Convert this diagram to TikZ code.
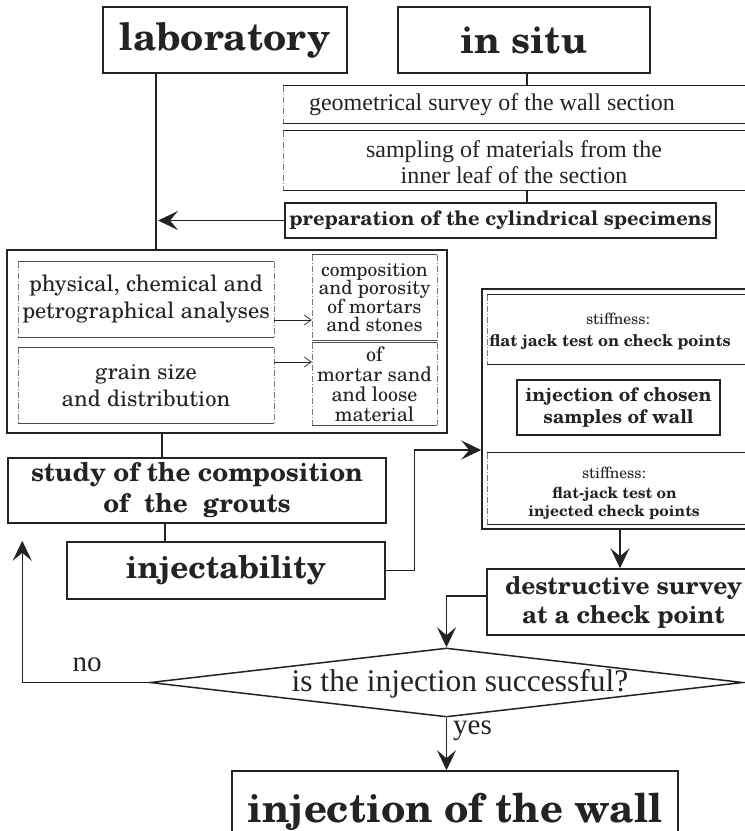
\documentclass[tikz,border=0pt]{standalone}
\usepackage{fontspec}
\setmainfont{Liberation Serif}
\newfontfamily\schola{TeX Gyre Schola}
\usetikzlibrary{arrows.meta,shapes.geometric,calc}
\definecolor{ink}{RGB}{35,35,35}
\tikzset{
  every node/.style={text=ink},
  frame/.style={draw=ink, line width=1.5pt, inner sep=0pt},
  blank/.style={inner sep=0pt},
  conn/.style={draw=ink, line width=1.1pt},
  bigarrow/.style={conn, -{Stealth[length=20pt,width=19pt,inset=8pt]}},
  thinarrow/.style={draw=ink, line width=0.7pt, -{Straight Barb[length=7pt,width=10pt]}},
  hline/.style={draw=ink, line width=1.1pt},
  thinline/.style={draw=ink!80, line width=0.7pt},
  dline/.style={draw=ink!60, line width=0.6pt, dash pattern=on 6pt off 2pt on 1pt off 2pt},
  hugebold/.style={font=\schola\bfseries\fontsize{38}{40}\selectfont},
  wideserif/.style={font=\schola\fontsize{22.5}{27}\selectfont, align=center},
  timesmid/.style={font=\fontsize{24}{26}\selectfont, align=center},
  stifflabel/.style={inner sep=0pt, anchor=base, font=\schola\fontsize{15.6}{18}\selectfont},
  jacklabel/.style={inner sep=0pt, anchor=base, font=\schola\bfseries\fontsize{16.3}{18}\selectfont},
}
\begin{document}
\begin{tikzpicture}[x=1pt,y=-1pt]
\useasboundingbox (0,0) rectangle (745,831);
\clip (0,0) rectangle (745,831);

% top headers
\node[frame, minimum width=244pt, minimum height=66pt, hugebold] (lab) at (225,40) {laboratory};
\node[frame, minimum width=252pt, minimum height=66pt, hugebold] (insitu) at (524,40) {in situ};

% in situ column
\node[blank, minimum width=467pt, minimum height=37pt] (geomf) at (516.5,104.5) {};
\node[timesmid] (geom) at (492,105) {geometrical survey of the wall section};
\node[blank, minimum width=467pt, minimum height=59pt] (sampf) at (516.5,160.5) {};
\node[timesmid] (samp) at (514,162) {sampling of materials from the\\inner leaf of the section};
\node[frame, minimum width=431pt, minimum height=35pt, font=\schola\bfseries\fontsize{20}{22}\selectfont] (prep) at (500.5,220.5) {preparation of the cylindrical specimens};

% laboratory box
\node[frame, minimum width=440pt, minimum height=183pt] (labbox) at (227,341.5) {};
\node[blank, minimum width=256pt, minimum height=75pt, wideserif] (phys) at (146,299.5) {physical, chemical and\\petrographical analyses};
\node[blank, minimum width=125pt, minimum height=85pt, align=center, font=\schola\fontsize{19.5}{18.5}\selectfont] (comp) at (374.5,297.5) {composition\\and porosity\\of mortars\\and stones};
\node[blank, minimum width=256pt, minimum height=75pt, wideserif] (grain) at (146,385.5) {grain size\\and distribution};
\node[blank, minimum width=125pt, minimum height=82pt, align=center, font=\schola\fontsize{20}{20}\selectfont] (ofm) at (374.5,384) {of\\mortar sand\\and loose\\material};

\foreach \n in {phys,comp,grain,ofm}{
  \draw[thinline] (\n.north west) -- (\n.north east);
  \draw[thinline] (\n.south west) -- (\n.south east);
  \draw[dline] (\n.north west) -- (\n.south west);
  \draw[dline] (\n.north east) -- (\n.south east);
}

% grouts
\node[frame, minimum width=378pt, minimum height=65pt, font=\schola\bfseries\fontsize{26}{31}\selectfont, align=center] (study) at (197,490.5) {study of the composition\\of\ \ the\ \ grouts};
\node[frame, minimum width=318pt, minimum height=57pt, font=\schola\bfseries\fontsize{31.5}{34}\selectfont] (inj) at (226,570.5) {injectability};

% right column
\node[frame, minimum width=278pt, minimum height=240pt] (rbox) at (621,409) {};
\node[blank, minimum width=273pt, minimum height=69pt] (s1f) at (623.5,329.5) {};
\node[stifflabel] (s1a) at (618,324) {stiffness:};
\node[jacklabel] (s1b) at (610,346) {flat jack test on check points};
\node[frame, minimum width=203pt, minimum height=55pt, align=center, font=\schola\bfseries\fontsize{19}{22}\selectfont] (chosen) at (618.5,407.5) {injection of chosen\\samples of wall};
\node[blank, minimum width=273pt, minimum height=71pt] (s2f) at (623.5,488.5) {};
\node[stifflabel] (s2a) at (614,478) {stiffness:};
\node[jacklabel, font=\schola\bfseries\fontsize{15.5}{18}\selectfont] (s2b) at (614.5,498) {flat-jack test on};
\node[jacklabel, font=\schola\bfseries\fontsize{15.5}{18}\selectfont] (s2c) at (614,516) {injected check points};

\foreach \n in {geomf,sampf,s1f,s2f}{
  \draw[hline] (\n.north west) -- (\n.north east);
  \draw[hline] (\n.south west) -- (\n.south east);
  \draw[dline] (\n.north west) -- (\n.south west);
}

\node[frame, minimum width=273pt, minimum height=66pt, align=center, font=\schola\bfseries\fontsize{24.5}{29}\selectfont] (destr) at (623.5,602) {destructive survey\\at a check point};

% decision
\node[draw=ink, line width=1.5pt, diamond, shape aspect=8.6, minimum width=593pt, minimum height=69pt, inner sep=0pt] (dia) at (446.5,682.5) {};
\node[font=\fontsize{31.5}{34}\selectfont, inner sep=0pt] (q) at (460,684) {is the injection successful?};
\node[font=\fontsize{29}{32}\selectfont, inner sep=0pt] (no) at (87,665) {no};
\node[font=\fontsize{29}{32}\selectfont, inner sep=0pt, anchor=west] (yes) at (453,731) {yes};

\node[frame, minimum width=446pt, minimum height=82pt, font=\schola\bfseries\fontsize{40}{44}\selectfont] (final) at (455,812) {injection of the wall};

% connectors
\draw[conn] ([xshift=-69pt]lab.south) -- ([xshift=-69pt]lab.south |- labbox.north);
\draw[conn] ([xshift=3pt]insitu.south) -- ([xshift=3pt]insitu.south |- geomf.north);
\draw[conn] ([xshift=3pt]insitu.south |- sampf.south) -- ([xshift=3pt]insitu.south |- prep.north);
\draw[bigarrow] (prep.west) -- ([xshift=-67pt]lab.south |- prep.west);
\draw[thinarrow] ([yshift=-20.5pt]phys.east) -- ([yshift=-20.5pt]phys.east -| comp.west);
\draw[thinarrow] ([yshift=23.5pt]grain.east) -- ([yshift=23.5pt]grain.east -| ofm.west);
\draw[conn] ([xshift=-65pt]labbox.south) -- ([xshift=-65pt]labbox.south |- study.north);
\draw[conn] ([xshift=-32pt]study.south) -- ([xshift=-32pt]study.south |- inj.north);
\draw[bigarrow] (inj.east) -- ++(29,0) |- ([yshift=-41pt]rbox.west);
\draw[bigarrow] ([xshift=-1pt]rbox.south) -- ([xshift=-1pt]rbox.south |- destr.north);
\draw[bigarrow] ([yshift=6pt]destr.west) -| (dia.north);
\draw[bigarrow, shorten >=17pt] (dia.west) -| ([xshift=15pt]study.south west);
\draw[bigarrow] (dia.south) -- (dia.south |- final.north);
\end{tikzpicture}
\end{document}
